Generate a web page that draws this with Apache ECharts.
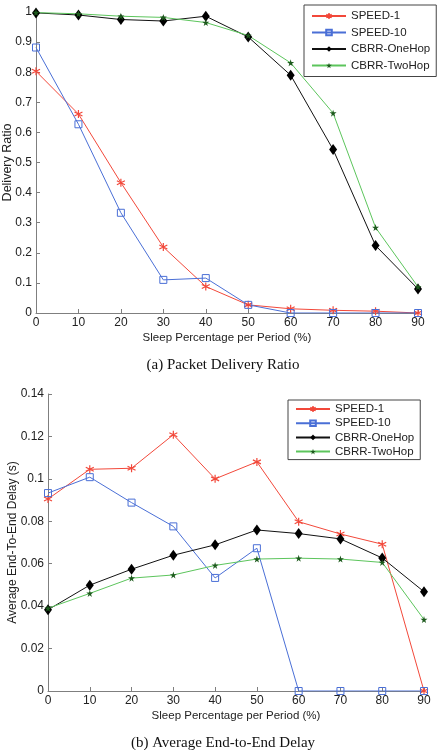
<!DOCTYPE html>
<html>
<head>
<meta charset="utf-8">
<script src="https://cdn.jsdelivr.net/npm/echarts@6/dist/echarts.min.js"></script>
<style>
  html, body { margin: 0; padding: 0; background: #fff; }
  #chart { width: 446px; height: 750px; }
</style>
</head>
<body>
<div id="chart"></div>
<script>
// sleep percentage (x axis, shared)
var sleepPct = [0, 10, 20, 30, 40, 50, 60, 70, 80, 90];
var seriesNames = ['SPEED-1', 'SPEED-10', 'CBRR-OneHop', 'CBRR-TwoHop'];

// (a) packet delivery ratio
var pdrSpeed1 = [0.803, 0.661, 0.433, 0.219, 0.088, 0.027, 0.014, 0.009, 0.006, 0];
var pdrSpeed10 = [0.882, 0.627, 0.333, 0.110, 0.116, 0.027, 0, 0, 0, 0];
var pdrOneHop = [0.997, 0.99, 0.975, 0.97, 0.986, 0.917, 0.79, 0.543, 0.224, 0.08];
var pdrTwoHop = [0.998, 0.994, 0.986, 0.982, 0.965, 0.922, 0.831, 0.664, 0.284, 0.087];

// (b) average end-to-end delay (s)
var delaySpeed1 = [0.0905, 0.1045, 0.105, 0.1208, 0.1, 0.108, 0.0798, 0.074, 0.0692, 0];
var delaySpeed10 = [0.0933, 0.1008, 0.0888, 0.0776, 0.0533, 0.0673, 0, 0, 0, 0];
var delayOneHop = [0.0383, 0.0499, 0.0574, 0.064, 0.0689, 0.0759, 0.0742, 0.0717, 0.0627, 0.0468];
var delayTwoHop = [0.039, 0.046, 0.0532, 0.0547, 0.0592, 0.0622, 0.0626, 0.0622, 0.0606, 0.0337];

var chart = echarts.init(document.getElementById('chart'));

var asterisk = 'path://M5,0L5,10M0.7,2.5L9.3,7.5M0.7,7.5L9.3,2.5';
var star = 'path://M50,0L61,35L98,35L68,57L79,91L50,70L21,91L32,57L2,35L39,35Z';

var styles = [
  { color: '#f2483a', symbol: asterisk, size: 8, fill: 'none', border: '#f2483a', bw: 1.2 },
  { color: '#4a6fd6', symbol: 'rect', size: 7, fill: 'none', border: '#4a6fd6', bw: 1 },
  { color: '#111111', symbol: 'diamond', size: [8, 11], fill: '#000', border: '#000', bw: 0 },
  { color: '#5cc55c', symbol: star, size: 7, fill: '#1d5a1d', border: '#1d5a1d', bw: 0 }
];

function pairs(vals) {
  return sleepPct.map(function (x, i) { return [x, vals[i]]; });
}

function makeSeries(idx, vals, axisIdx) {
  var s = styles[idx];
  return {
    name: seriesNames[idx],
    type: 'line',
    xAxisIndex: axisIdx,
    yAxisIndex: axisIdx,
    data: pairs(vals),
    symbol: s.symbol,
    symbolSize: s.size,
    showAllSymbol: true,
    lineStyle: { color: s.color, width: 1 },
    itemStyle: { color: s.fill, borderColor: s.border, borderWidth: s.bw },
    emphasis: { disabled: true },
    animation: false
  };
}

var axisGray = '#7f7f7f';
var sans = 'Liberation Sans, Arial, sans-serif';
var labelFont = { color: '#222', fontSize: 12, fontFamily: sans };

function xAx(gi) {
  return {
    type: 'value', gridIndex: gi, min: 0, max: 90, interval: 10,
    name: 'Sleep Percentage per Period (%)', nameLocation: 'middle', nameGap: 19,
    nameMoveOverlap: false,
    nameTextStyle: { color: '#222', fontSize: 11.5, fontFamily: sans },
    axisLine: { lineStyle: { color: axisGray } },
    axisTick: { inside: true, length: 4, lineStyle: { color: axisGray } },
    axisLabel: Object.assign({ margin: 4 }, labelFont),
    splitLine: { show: false }
  };
}

function yAx(gi, max, interval, name, gap, fs) {
  return {
    type: 'value', gridIndex: gi, min: 0, max: max, interval: interval,
    name: name, nameLocation: 'middle', nameGap: gap,
    nameMoveOverlap: false,
    nameTextStyle: { color: '#222', fontSize: fs, fontFamily: sans },
    axisLine: { show: true, lineStyle: { color: axisGray } },
    axisTick: { show: true, inside: true, length: 4, lineStyle: { color: axisGray } },
    axisLabel: Object.assign({ margin: 4 }, labelFont),
    splitLine: { show: false }
  };
}

var legendBase = {
  orient: 'vertical',
  data: seriesNames,
  backgroundColor: '#fff',
  borderColor: '#444',
  borderWidth: 1,
  borderRadius: 0,
  itemWidth: 34,
  itemHeight: 7,
  selectedMode: false,
  textStyle: { color: '#222', fontSize: 11.5, lineHeight: 14, fontFamily: sans }
};

var option = {
  backgroundColor: '#fff',
  animation: false,
  title: [
    { text: '(a) Packet Delivery Ratio', left: 'center', top: 353,
      textStyle: { fontFamily: 'Liberation Serif, Times New Roman, serif', fontWeight: 'normal', fontSize: 15, color: '#111' } },
    { text: '(b) Average End-to-End Delay', left: 'center', top: 731,
      textStyle: { fontFamily: 'Liberation Serif, Times New Roman, serif', fontWeight: 'normal', fontSize: 15, color: '#111' } }
  ],
  legend: [
    Object.assign({}, legendBase, { left: 304, top: 5, padding: [4, 6, 4, 7], itemGap: 2.5 }),
    Object.assign({}, legendBase, { left: 288, top: 400, padding: [2, 6, 1, 7], itemGap: 0.2 })
  ],
  grid: [
    { left: 36, top: 12, width: 382, height: 301, outerBoundsMode: 'none', containLabel: false },
    { left: 48, top: 394, width: 376, height: 297, outerBoundsMode: 'none', containLabel: false }
  ],
  xAxis: [xAx(0), xAx(1)],
  yAxis: [
    yAx(0, 1, 0.1, 'Delivery Ratio', 22, 12.5),
    yAx(1, 0.14, 0.02, 'Average End-To-End Delay (s)', 29, 12)
  ],
  series: [
    makeSeries(0, pdrSpeed1, 0),
    makeSeries(1, pdrSpeed10, 0),
    makeSeries(2, pdrOneHop, 0),
    makeSeries(3, pdrTwoHop, 0),
    makeSeries(0, delaySpeed1, 1),
    makeSeries(1, delaySpeed10, 1),
    makeSeries(2, delayOneHop, 1),
    makeSeries(3, delayTwoHop, 1)
  ]
};

chart.setOption(option);
</script>
</body>
</html>
